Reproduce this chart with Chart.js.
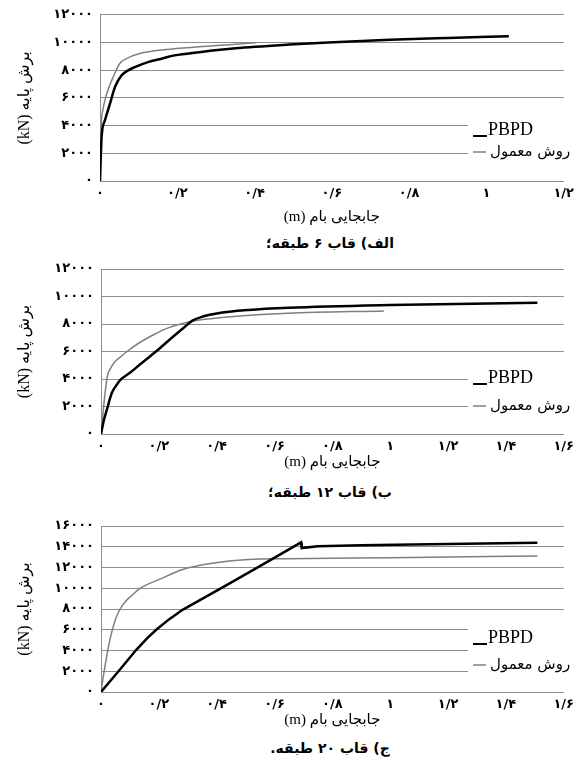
<!DOCTYPE html>
<html>
<head>
<meta charset="utf-8">
<script src="https://cdn.jsdelivr.net/npm/chart.js@4"></script>
<style>
body { margin: 0; background: #fff; width: 579px; height: 769px; position: relative; overflow: hidden; }
canvas { position: absolute; left: 0; }
.cap { position: absolute; left: 330px; transform: translateX(-50%); white-space: nowrap; font: bold 14px "DejaVu Sans"; line-height: 18px; color: #000; }
</style>
</head>
<body>
<canvas id="c1" dir="rtl" width="579" height="228" style="top:0px"></canvas>
<div class="cap" dir="rtl" style="top:234px">الف) قاب ۶ طبقه؛</div>
<canvas id="c2" dir="rtl" width="579" height="224" style="top:250px"></canvas>
<div class="cap" dir="rtl" style="top:483px">ب) قاب ۱۲ طبقه؛</div>
<canvas id="c3" dir="rtl" width="579" height="227" style="top:505px"></canvas>
<div class="cap" dir="rtl" style="top:739px">ج) قاب ۲۰ طبقه.</div>
<script>
// tick values
var xTicks6 = [0, 0.2, 0.4, 0.6, 0.8, 1, 1.2];
var xTicks12 = [0, 0.2, 0.4, 0.6, 0.8, 1, 1.2, 1.4, 1.6];
var yTicks12 = [0, 2000, 4000, 6000, 8000, 10000, 12000];
var yTicks16 = [0, 2000, 4000, 6000, 8000, 10000, 12000, 14000, 16000];

var seriesNames = ['PBPD', 'روش معمول'];

// 6-storey frame
var pbpd6X = [0, 0.004, 0.013, 0.026, 0.039, 0.056, 0.073, 0.09, 0.124, 0.159, 0.193, 0.257, 0.35, 0.49, 0.59, 0.75, 0.9, 1.058];
var pbpd6Y = [0, 3100, 4400, 5600, 6800, 7630, 7990, 8220, 8580, 8830, 9070, 9300, 9580, 9850, 10000, 10200, 10330, 10450];
var conv6X = [0, 0.003, 0.008, 0.015, 0.025, 0.034, 0.051, 0.069, 0.103, 0.171, 0.257, 0.343, 0.403];
var conv6Y = [0, 3900, 5200, 6070, 6900, 7500, 8480, 8840, 9200, 9490, 9690, 9860, 9980];

// 12-storey frame
var pbpd12X = [0, 0.01, 0.02, 0.037, 0.05, 0.068, 0.1, 0.14, 0.19, 0.242, 0.282, 0.316, 0.355, 0.4, 0.51, 0.65, 1.0, 1.509];
var pbpd12Y = [0, 1000, 1750, 2960, 3450, 3950, 4450, 5150, 6000, 6950, 7650, 8250, 8560, 8770, 9020, 9180, 9380, 9550];
var conv12X = [0, 0.014, 0.023, 0.031, 0.048, 0.07, 0.09, 0.13, 0.18, 0.23, 0.275, 0.33, 0.45, 0.647, 0.978];
var conv12Y = [0, 2960, 4290, 4700, 5250, 5650, 6000, 6600, 7200, 7700, 8000, 8250, 8530, 8780, 8950];

// 20-storey frame
var pbpd20X = [0, 0.065, 0.122, 0.16, 0.191, 0.235, 0.282, 0.419, 0.545, 0.692, 0.694, 0.75, 0.9, 1.2, 1.509];
var pbpd20Y = [0, 2140, 4070, 5200, 6000, 7000, 7920, 10060, 12060, 14420, 13870, 14050, 14150, 14260, 14390];
var conv20X = [0, 0.0137, 0.031, 0.054, 0.076, 0.11, 0.133, 0.202, 0.282, 0.396, 0.51, 0.647, 1.0, 1.509];
var conv20Y = [0, 2470, 5050, 7300, 8430, 9400, 9950, 10850, 11810, 12460, 12780, 12850, 12950, 13100];

var faDigits = '۰۱۲۳۴۵۶۷۸۹';
function fa(v) {
  return String(Math.round(v * 10) / 10).replace('.', '/').replace(/\d/g, function (d) { return faDigits[d]; });
}
function pts(xs, ys) {
  return xs.map(function (x, i) { return { x: x, y: ys[i] }; });
}

var gridGray = '#8c8c8c';
var tickFont = { family: 'DejaVu Sans', size: 13, weight: 'bold' };
var titleFont = { family: "'Liberation Serif', 'DejaVu Sans'", size: 15 };

// legend drawn over the right end of the plot, hiding the grid lines behind it
var legendBox = {
  id: 'legendBox',
  beforeDatasetsDraw: function (chart, args, o) {
    var ctx = chart.ctx;
    ctx.save();
    ctx.fillStyle = '#fff';
    ctx.fillRect(468, o.top, chart.width - 468, o.bottom - o.top);
    ctx.lineCap = 'butt';
    ctx.strokeStyle = '#000';
    ctx.lineWidth = 2;
    ctx.beginPath();
    ctx.moveTo(473, o.y1 + 6);
    ctx.lineTo(487, o.y1 + 6);
    ctx.stroke();
    ctx.strokeStyle = '#7f7f7f';
    ctx.lineWidth = 1.5;
    ctx.beginPath();
    ctx.moveTo(473, o.y2);
    ctx.lineTo(486, o.y2);
    ctx.stroke();
    ctx.fillStyle = '#000';
    ctx.textAlign = 'left';
    ctx.textBaseline = 'middle';
    ctx.font = '18px "Liberation Serif"';
    ctx.fillText(seriesNames[0], 488, o.y1);
    ctx.font = '15px "DejaVu Sans"';
    ctx.fillText(seriesNames[1], 490, o.y2);
    ctx.restore();
  }
};

function makeChart(id, s) {
  new Chart(id, {
    type: 'scatter',
    data: {
      datasets: [{
        label: seriesNames[0],
        data: pts(s.px, s.py),
        showLine: true,
        borderColor: '#000',
        borderWidth: 2.5,
        pointRadius: 0,
        tension: 0,
        cubicInterpolationMode: s.smoothBlack ? 'monotone' : 'default'
      }, {
        label: seriesNames[1],
        data: pts(s.cx, s.cy),
        showLine: true,
        borderColor: '#7f7f7f',
        borderWidth: 1.5,
        pointRadius: 0,
        cubicInterpolationMode: 'monotone'
      }]
    },
    options: {
      responsive: false,
      animation: false,
      layout: { padding: { top: s.padTop, right: 579 - s.right, left: 0, bottom: 0 } },
      plugins: {
        legend: { display: false },
        tooltip: { enabled: false },
        legendBox: s.legend
      },
      scales: {
        x: {
          type: 'linear',
          min: 0,
          max: s.xTicks[s.xTicks.length - 1],
          afterBuildTicks: function (sc) { sc.ticks = s.xTicks.map(function (v) { return { value: v }; }); },
          afterFit: function (sc) { sc.height = s.xHeight; },
          grid: { display: false, drawTicks: false },
          border: { display: true, color: gridGray, width: 1 },
          ticks: { font: tickFont, color: '#000', padding: 5, maxRotation: 0, autoSkip: false, callback: function (v) { return fa(v); } },
          title: { display: true, text: 'جابجایی بام (m)', font: titleFont, color: '#000', padding: { top: 0, bottom: s.xTitlePad } }
        },
        y: {
          min: 0,
          max: s.yTicks[s.yTicks.length - 1],
          afterBuildTicks: function (sc) { sc.ticks = s.yTicks.map(function (v) { return { value: v }; }); },
          afterFit: function (sc) { sc.width = s.left; },
          grid: { color: gridGray, lineWidth: 1, drawTicks: false },
          border: { display: true, color: gridGray, width: 1 },
          ticks: { font: tickFont, color: '#000', padding: 7, callback: function (v) { return fa(v); } },
          title: { display: true, text: 'برش پایه (kN)', font: { family: "'Liberation Serif', 'DejaVu Sans'", size: 16 }, color: '#000', padding: { top: 15, bottom: 0 } }
        }
      }
    },
    plugins: [legendBox]
  });
}

makeChart('c1', {
  px: pbpd6X, py: pbpd6Y, cx: conv6X, cy: conv6Y, smoothBlack: true,
  xTicks: xTicks6, yTicks: yTicks12,
  padTop: 14, left: 100, right: 567, xHeight: 47, xTitlePad: 2,
  legend: { top: 108, bottom: 168, y1: 130, y2: 152 }
});
makeChart('c2', {
  px: pbpd12X, py: pbpd12Y, cx: conv12X, cy: conv12Y, smoothBlack: true,
  xTicks: xTicks12, yTicks: yTicks12,
  padTop: 19, left: 101, right: 568, xHeight: 40, xTitlePad: 3,
  legend: { top: 110, bottom: 172, y1: 128, y2: 156 }
});
makeChart('c3', {
  px: pbpd20X, py: pbpd20Y, cx: conv20X, cy: conv20Y, smoothBlack: false,
  xTicks: xTicks12, yTicks: yTicks16,
  padTop: 21, left: 101, right: 568, xHeight: 40, xTitlePad: 3,
  legend: { top: 110, bottom: 180, y1: 133, y2: 160 }
});
</script>
</body>
</html>
